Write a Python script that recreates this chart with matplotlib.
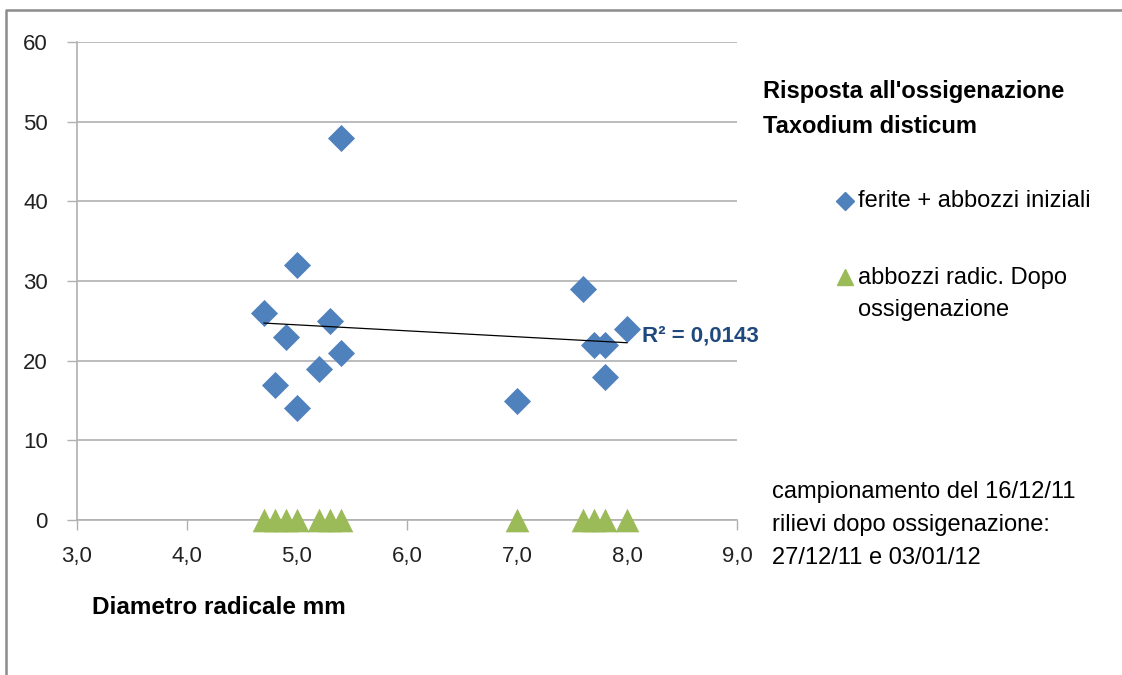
import numpy as np
import matplotlib
matplotlib.use("Agg")
import matplotlib.pyplot as plt
from matplotlib.lines import Line2D

# Data
diametro = [4.7, 4.8, 4.9, 5.0, 5.0, 5.2, 5.3, 5.4, 5.4, 7.0, 7.6, 7.7, 7.8, 7.8, 8.0]
ferite = [26, 17, 23, 32, 14, 19, 25, 48, 21, 15, 29, 22, 22, 18, 24]
diametro_abbozzi = [4.7, 4.8, 4.9, 5.0, 5.2, 5.3, 5.4, 7.0, 7.6, 7.7, 7.8, 8.0]
abbozzi = [0, 0, 0, 0, 0, 0, 0, 0, 0, 0, 0, 0]
r2_label = "R² = 0,0143"

blue = "#4F81BD"
green = "#9BBB59"
grid_grey = "#B0B0B0"

plt.rcParams['font.family'] = ['Liberation Sans', 'DejaVu Sans']

W, H = 1122, 675
fig = plt.figure(figsize=(W / 100, H / 100), dpi=100)
ax = fig.add_axes([77 / W, 155 / H, 660 / W, 478 / H])

ax.scatter(diametro, ferite, marker='D', s=190, color=blue, zorder=3, linewidths=0)
ax.scatter(diametro_abbozzi, abbozzi, marker='^', s=290, color=green, zorder=3, linewidths=0)

# linear trendline on the first series
coef = np.polyfit(diametro, ferite, 1)
xs = np.array([min(diametro), max(diametro)])
ax.plot(xs, np.polyval(coef, xs), color='black', lw=0.9, zorder=4)
ax.text(8.14, np.polyval(coef, 8.0) + 0.8, r2_label, color='#1F497D',
        fontsize=16, fontweight='bold', va='center', ha='left')

ax.set_xlim(3, 9)
ax.set_ylim(0, 60)
ax.set_xticks(np.arange(3, 9.01, 1))
ax.set_xticklabels([f"{v:.1f}".replace('.', ',') for v in np.arange(3, 9.01, 1)])
ax.set_yticks(range(0, 61, 10))
ax.yaxis.grid(True, color=grid_grey, lw=1.2)
ax.set_axisbelow(True)
for s in ['top', 'right']:
    ax.spines[s].set_visible(False)
for s in ['left', 'bottom']:
    ax.spines[s].set_color(grid_grey)
    ax.spines[s].set_linewidth(1.2)
ax.tick_params(axis='both', colors=grid_grey, labelcolor='#222222', labelsize=16, width=1)
ax.tick_params(axis='y', length=7, pad=14)
ax.tick_params(axis='x', length=7, pad=12)
for c in ax.collections:
    c.set_clip_on(False)

fig.text(92 / W, 1 - 607 / H, "Diametro radicale mm", fontsize=17.5, fontweight='bold',
         va='center', ha='left')

fig.text(763 / W, 1 - 109 / H, "Risposta all'ossigenazione\nTaxodium disticum",
         fontsize=17, fontweight='bold', va='center', ha='left', linespacing=1.7)

# legend entries
fig.lines.append(Line2D([845 / W], [1 - 201 / H], marker='D', markersize=9, color=blue,
                        lw=0, transform=fig.transFigure))
fig.text(858 / W, 1 - 201 / H, "ferite + abbozzi iniziali", fontsize=17, va='center', ha='left')
fig.lines.append(Line2D([845 / W], [1 - 277 / H], marker='^', markersize=11, color=green,
                        lw=0, transform=fig.transFigure))
fig.text(858 / W, 1 - 294 / H, "abbozzi radic. Dopo\nossigenazione", fontsize=17,
         va='center', ha='left', linespacing=1.55)

fig.text(772 / W, 1 - 525 / H,
         "campionamento del 16/12/11\nrilievi dopo ossigenazione:\n27/12/11 e 03/01/12",
         fontsize=17, va='center', ha='left', linespacing=1.65)

# outer chart frame
fig.lines.append(Line2D([6 / W, 6 / W, 1.0], [0.0, 1 - 10 / H, 1 - 10 / H],
                        color='#8C8C8C', lw=1.8, transform=fig.transFigure))

fig.savefig("out.png", dpi=100)
